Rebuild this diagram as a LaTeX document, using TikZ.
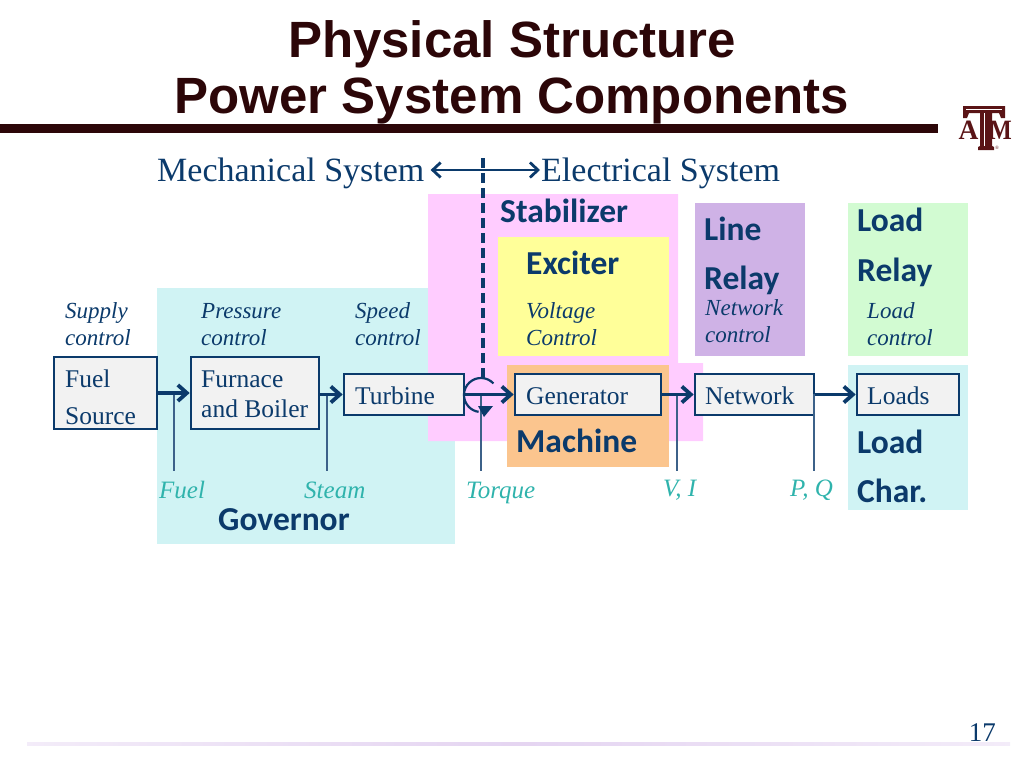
\documentclass[tikz,border=0pt]{standalone}
\usepackage{fontspec}
\usepackage{graphicx}
\setmainfont{Liberation Serif}
\newfontfamily\ttlfont{Liberation Sans}
\newfontfamily\calfont{Carlito}
\usetikzlibrary{arrows.meta,calc}
\definecolor{navy}{HTML}{0B3A6B}
\definecolor{maroon}{HTML}{2C0608}
\definecolor{logo}{HTML}{5A1416}
\definecolor{teal2}{HTML}{2FB3AC}
\definecolor{cyanbg}{HTML}{D0F3F4}
\definecolor{pinkbg}{HTML}{FFCCFF}
\definecolor{yellowbg}{HTML}{FFFF99}
\definecolor{orangebg}{HTML}{FBC58E}
\definecolor{purplebg}{HTML}{CFB2E6}
\definecolor{greenbg}{HTML}{D2FBD2}
\definecolor{boxbg}{HTML}{F2F2F2}
\tikzset{
  x=1pt,y=-1pt,
  ttl/.style={font=\ttlfont\bfseries\fontsize{51}{51}\selectfont,text=maroon,anchor=base,inner sep=0pt},
  head/.style={font=\fontsize{34}{34}\selectfont,text=navy,anchor=base west,inner sep=0pt},
  tagl/.style={font=\calfont\bfseries\fontsize{33.5}{34}\selectfont,text=navy,anchor=base west,inner sep=0pt},
  ctl/.style={font=\itshape\fontsize{23}{23}\selectfont,text=navy,anchor=base west,inner sep=0pt},
  sig/.style={font=\itshape\fontsize{25}{25}\selectfont,text=teal2,anchor=base west,inner sep=0pt},
  blocktxt/.style={font=\fontsize{25.5}{26}\selectfont,text=navy,anchor=base west,inner sep=0pt},
  block/.style={draw=navy,line width=2.6pt,fill=boxbg,minimum width=#1,inner sep=0pt},
  flow/.style={draw=navy,line width=3.4pt,-{Straight Barb[length=9pt,width=16pt,line width=3.8pt]}},
  lead/.style={draw=navy!80!white,line width=1.2pt},
  logotxt/.style={font=\bfseries\fontsize{28}{28}\selectfont,text=logo,inner sep=0pt,anchor=base},
}
\begin{document}
\begin{tikzpicture}
\useasboundingbox (0,0) rectangle (1024,768);
% backgrounds
\fill[cyanbg] (157,288) rectangle (455,544);
\fill[pinkbg] (428,194) -- (678,194) -- (678,363) -- (703,363) -- (703,441) -- (428,441) -- cycle;
\fill[yellowbg] (498,237) rectangle (669,356);
\fill[orangebg] (507,365) rectangle (669,467);
\fill[purplebg] (695,203) rectangle (805,356);
\fill[greenbg] (848,203) rectangle (968,356);
\fill[cyanbg] (848,365) rectangle (968,510);
% title
\node[ttl] (t1) at (512,57) {Physical Structure};
\node[ttl] (t2) at (512,113) {Power System Components};
\fill[maroon] (0,124) rectangle (938,133);
% logo
\fill[logo] (963,106) -- (1005,106) -- (1005,118) -- (1001,118) -- (999,113) -- (992,113) -- (992,146) -- (994,147) -- (994,150) -- (978,150) -- (978,147) -- (980,146) -- (980,113) -- (969,113) -- (967,118) -- (963,118) -- cycle;
\draw[white,line width=0.7pt] (966,109) -- (1002,109);
\draw[white,line width=0.7pt] (984,113) -- (984,146);
\node[logotxt] (logoa) at (968.5,139) {\scalebox{0.98}[1]{A}};
\node[logotxt] (logom) at (1000.5,139) {\scalebox{0.85}[1]{M}};
\node[font=\fontsize{5}{5}\selectfont,text=logo,inner sep=0pt] (logor) at (997,148) {®};
% headers
\node[head] (mech) at (157,181) {Mechanical System};
\node[head] (elec) at (541,181) {Electrical System};
\draw[draw=navy,line width=2.6pt,{Straight Barb[length=8pt,width=15pt,line width=2.8pt]}-{Straight Barb[length=8pt,width=15pt,line width=2.8pt]}] ($(mech.base east)+(6,-11)$) -- ($(elec.base west)+(-1,-11)$);
\coordinate (divtop) at (483,158);
\coordinate (divbot) at (483,378);
\draw[navy,line width=3.2pt,dash pattern=on 10pt off 5pt] (divtop) -- (divbot);
% tags
\node[tagl] (stab) at (500,222) {Stabilizer};
\node[tagl] (exc) at (526,274) {Exciter};
\node[tagl] (line) at (704,240) {Line};
\node[tagl] (rel1) at (704,289) {Relay};
\node[tagl] (load1) at (857,231) {Load};
\node[tagl] (rel2) at (857,281) {Relay};
\node[tagl] (mach) at (516,452) {Machine};
\node[tagl] (load2) at (857,453) {Load};
\node[tagl] (char) at (857,502) {Char.};
\node[tagl] (gov) at (218,530) {Governor};
% control labels
\node[ctl] at (65,318) {Supply};
\node[ctl] at (65,345) {control};
\node[ctl] at (201,318) {Pressure};
\node[ctl] at (201,345) {control};
\node[ctl] at (355,318) {Speed};
\node[ctl] at (355,345) {control};
\node[ctl] at (526,318) {Voltage};
\node[ctl] at (526,345) {Control};
\node[ctl] at (705,315) {Network};
\node[ctl] at (705,342) {control};
\node[ctl] at (867,318) {Load};
\node[ctl] at (867,345) {control};
% blocks
\node[block=103pt,minimum height=72pt] (fuel) at (105.5,393) {};
\node[block=128pt,minimum height=72pt] (furn) at (255,393) {};
\node[block=120pt,minimum height=41pt] (turb) at (404,394.5) {};
\node[block=146pt,minimum height=41pt] (gen) at (588,394.5) {};
\node[block=119pt,minimum height=41pt] (net) at (754.5,394.5) {};
\node[block=102pt,minimum height=41pt] (loads) at (908,394.5) {};
\node[blocktxt] at (65,387) {Fuel};
\node[blocktxt] at (65,424) {Source};
\node[blocktxt] at (201,387) {Furnace};
\node[blocktxt] at (201,417) {and Boiler};
\node[blocktxt] at (355,404) {Turbine};
\node[blocktxt] at (526,404) {Generator};
\node[blocktxt] at (705,404) {Network};
\node[blocktxt] at (867,404) {Loads};
% signal leads
\coordinate (fueltap) at (174,393);
\coordinate (fuelend) at (174,471);
\coordinate (steamtap) at (327,394);
\coordinate (steamend) at (327,471);
\coordinate (torqtap) at (481,394);
\coordinate (torqend) at (481,471);
\coordinate (vitap) at (677,394);
\coordinate (viend) at (677,471);
\coordinate (pqtap) at (814,394);
\coordinate (pqend) at (814,471);
\draw[lead] (fueltap) -- (fuelend);
\draw[lead] (steamtap) -- (steamend);
\draw[lead] (torqtap) -- (torqend);
\draw[lead] (vitap) -- (viend);
\draw[lead] (pqtap) -- (pqend);
% flows
\draw[flow] (fuel.east) -- (furn.west);
\draw[flow] (furn.east |- turb.west) -- (turb.west);
\draw[flow] (turb.east) -- (gen.west);
\draw[flow] (gen.east) -- (net.west);
\draw[flow] (net.east) -- (loads.west);
% rotation symbol
\draw[navy,line width=2.2pt] (493.4,383.4) arc[start angle=-43,end angle=-262,radius=17];
\fill[navy] (478,406) -- (493,406) -- (484,417) -- cycle;
% signals
\node[sig] at (159,498) {Fuel};
\node[sig] at (304,498) {Steam};
\node[sig] at (466,498) {Torque};
\node[sig] at (663,496) {V, I};
\node[sig] at (790,496) {P, Q};
% footer
\fill[left color=purplebg!25,right color=purplebg!25,middle color=purplebg!55] (27,742) rectangle (1010,745);
\node[font=\fontsize{27}{27}\selectfont,text=navy,anchor=base east,inner sep=0pt] at (996,741) {17};
\end{tikzpicture}
\end{document}
